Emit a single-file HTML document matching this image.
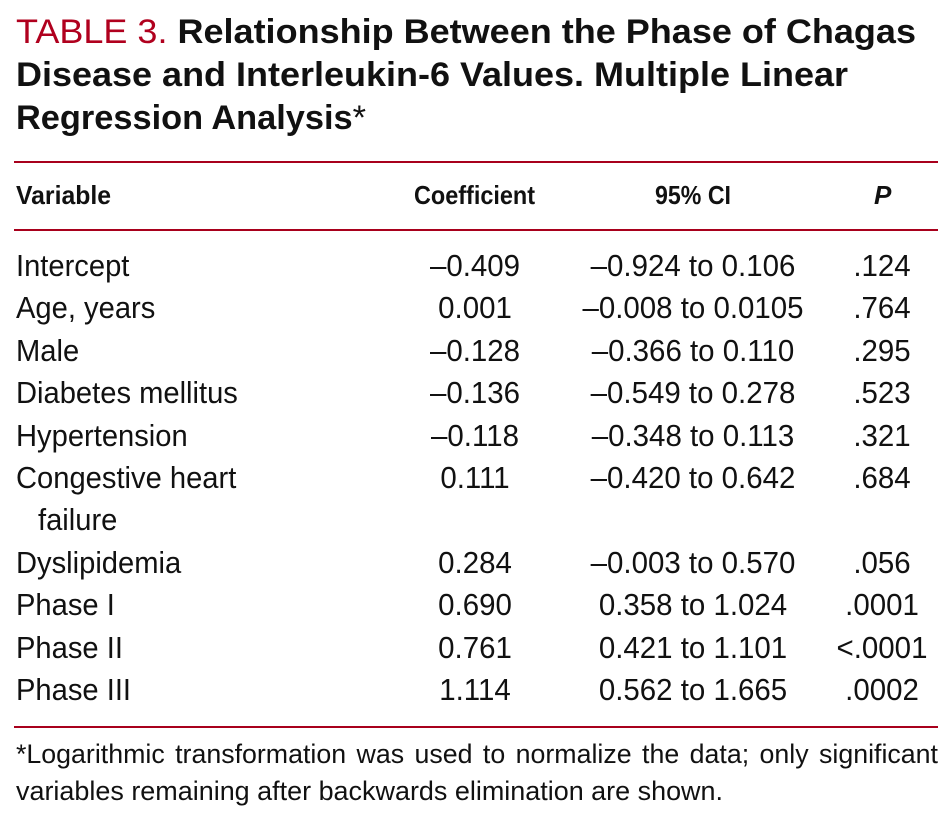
<!DOCTYPE html>
<html><head><meta charset="utf-8"><style>
body{margin:0;width:948px;height:822px;background:#fff;position:relative;overflow:hidden;font-family:"Liberation Sans",sans-serif;color:#111}
.t{position:absolute;white-space:nowrap}
.fit{transform-origin:left top}
.title{left:16px;font-size:34px;font-weight:bold}
.rule{position:absolute;left:14px;width:924px;height:2px;background:#a8001c}
.hd{font-weight:bold;font-size:26px;top:180px}
.c{font-size:31px}
.cen{transform:translateX(-50%) scaleX(0.95)}
.fn{left:16px;font-size:27px}
</style></head><body>
<div class="t title fit" data-w="900" style="top:13px"><span style="color:#b0001e;font-weight:normal">TABLE 3.</span> Relationship Between the Phase of Chagas</div>
<div class="t title fit" data-w="832" style="top:56px">Disease and Interleukin-6 Values. Multiple Linear</div>
<div class="t title fit" data-w="350" style="top:99px">Regression Analysis<span style="font-weight:normal">*</span></div>
<div class="rule" style="top:161px"></div>
<div class="t hd fit" data-w="95" style="left:16px">Variable</div>
<div class="t hd fit" data-w="121" style="left:414px">Coefficient</div>
<div class="t hd fit" data-w="76" style="left:655px">95% CI</div>
<div class="t hd" style="left:874px;font-style:italic">P</div>
<div class="rule" style="top:229px"></div>
<div id="rows"></div>
<div class="rule" style="top:726px"></div>
<div class="t fn fit" data-w="922" style="top:739px;word-spacing:3px">*Logarithmic transformation was used to normalize the data; only significant</div>
<div class="t fn fit" data-w="707" style="top:776px">variables remaining after backwards elimination are shown.</div>
<script>
const vars=["Intercept","Age, years","Male","Diabetes mellitus","Hypertension","Congestive heart","failure","Dyslipidemia","Phase I","Phase II","Phase III"];
const coefs=["\u20130.409","0.001","\u20130.128","\u20130.136","\u20130.118","0.111","","0.284","0.690","0.761","1.114"];
const cis=["\u20130.924 to 0.106","\u20130.008 to 0.0105","\u20130.366 to 0.110","\u20130.549 to 0.278","\u20130.348 to 0.113","\u20130.420 to 0.642","","\u20130.003 to 0.570","0.358 to 1.024","0.421 to 1.101","0.562 to 1.665"];
const ps=[".124",".764",".295",".523",".321",".684","",".056",".0001","<.0001",".0002"];
const root=document.getElementById('rows');
function add(txt,left,top,cls,name){
  const d=document.createElement('div');
  d.className='t c '+cls;d.textContent=txt;d.style.left=left+'px';d.style.top=top+'px';
  
  
  root.appendChild(d);
  return d;
}
vars.forEach((v,i)=>{
  const top=248+i*42.4;
  const l=add(v,i===6?38:16,top,'','row-label');
  l.style.transform='scaleX(0.94)';l.style.transformOrigin='left';
  if(coefs[i])add(coefs[i],475,top,'cen','coefficient-value');
  if(cis[i])add(cis[i],693,top,'cen','ci-value');
  if(ps[i])add(ps[i],882,top,'cen','p-value');
});
document.querySelectorAll('.fit').forEach(el=>{
  const w=el.getBoundingClientRect().width;
  el.style.transform='scaleX('+(parseFloat(el.dataset.w)/w)+')';
});
</script>
</body></html>
